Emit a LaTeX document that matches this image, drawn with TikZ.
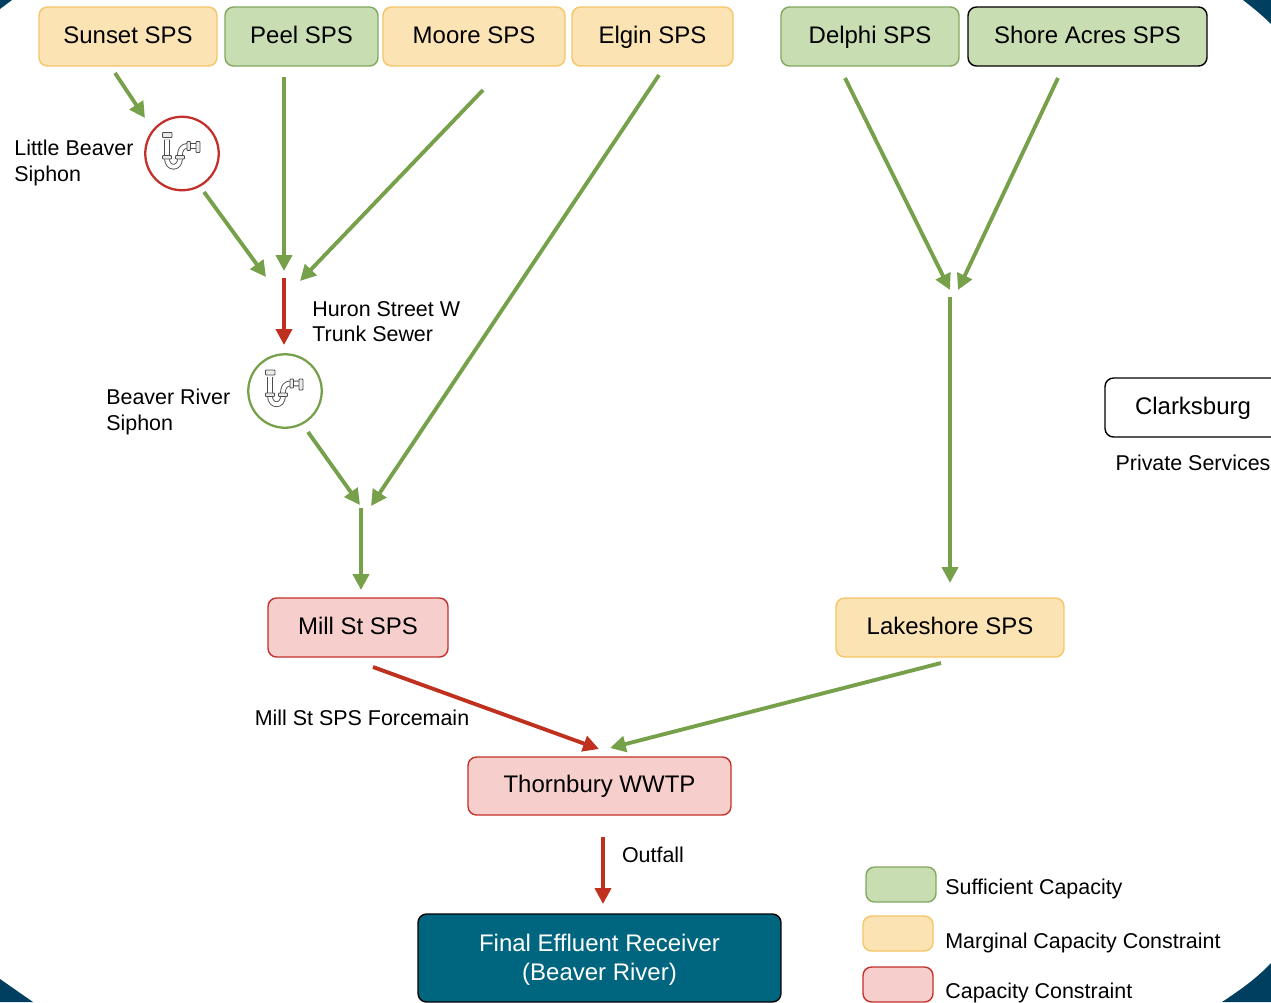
\documentclass[tikz,border=0pt]{standalone}
\usepackage{fontspec}
\setmainfont{Liberation Sans}
\usetikzlibrary{arrows.meta}
\definecolor{sufficientFill}{HTML}{C9DDB2}
\definecolor{sufficientLine}{HTML}{82A85E}
\definecolor{marginalFill}{HTML}{FBE3B3}
\definecolor{marginalLine}{HTML}{F5C568}
\definecolor{constraintFill}{HTML}{F6CFCC}
\definecolor{constraintLine}{HTML}{C4302B}
\definecolor{receiverFill}{HTML}{00667F}
\definecolor{cornerFill}{HTML}{003F5F}
\definecolor{flowGreen}{HTML}{76A04A}
\definecolor{flowRed}{HTML}{C0301F}
\tikzset{
  baseBox/.style={%
    rectangle, rounded corners=0.17cm, line width=0.8pt, draw, inner sep=0pt,
    font=\fontsize{13.65}{16.6}\selectfont, align=center, text=black,
    text height=10pt, text depth=2.6pt,
  },
  sufficientBox/.style={baseBox, fill=sufficientFill, draw=sufficientLine},
  marginalBox/.style={baseBox, fill=marginalFill, draw=marginalLine},
  constraintBox/.style={baseBox, fill=constraintFill, draw=constraintLine},
  plainLabel/.style={%
    inner sep=0pt, align=left, font=\fontsize{12.2}{14.6}\selectfont,
  },
  siphonNode/.style={%
    circle, minimum size=1.47cm, inner sep=0pt, fill=white, line width=1.3pt,
  },
  greenFlow/.style={%
    draw=flowGreen, line width=2.2pt, -{Triangle[length=9pt,width=9pt]},
  },
  redFlow/.style={%
    draw=flowRed, line width=2.2pt, -{Triangle[length=9pt,width=9pt]},
  },
  pipeLine/.style={%
    draw=black!70, double=white, line width=0.5pt, double distance=2.2pt,
  },
  pipeCap/.style={%
    draw=black!70, fill=black!8, line width=0.5pt, rounded corners=0.4pt,
  },
  pics/pipeIcon/.style={
    code={
      \draw[pipeLine] (-15,-14) -- (-15,5) .. controls (-15,16) and (-2,16) .. (-2,5) -- (-2,1)
        .. controls (-2,-4) and (1,-7.5) .. (5,-7.5) -- (15,-7.5);
      \draw[pipeCap] (-19.5,-21) rectangle (-10,-16);
      \draw[pipeCap] (-19.5,2) rectangle (-10.5,5.5);
      \draw[pipeCap] (-6.5,2) rectangle (2.5,5.5);
      \draw[pipeCap] (5,-12) rectangle (8.5,-3);
      \draw[pipeCap] (14,-12) rectangle (18,-1);
    }
  },
}

\begin{document}
\begin{tikzpicture}[x=0.02cm,y=-0.02cm]
  \useasboundingbox (0,0) rectangle (1271,1002);

  % corners
  \fill[cornerFill] (0,0) -- (12,0) -- (0,9) -- cycle;
  \fill[cornerFill] (1243,0) -- (1271,0) -- (1271,24) .. controls (1262,15) and (1252,7) .. (1243,0) -- cycle;
  \fill[cornerFill] (0,979) -- (33,1002) -- (0,1002) -- cycle;
  \fill[cornerFill] (1271,963) .. controls (1256,979) and (1240,990) .. (1222,1002) -- (1271,1002) -- cycle;

  % pump stations
  \node[marginalBox,minimum width=3.56cm,minimum height=1.18cm] (sunset) at (128,36.5) {Sunset SPS};
  \node[sufficientBox,minimum width=3.06cm,minimum height=1.18cm] (peel) at (301.5,36.5) {Peel SPS};
  \node[marginalBox,minimum width=3.64cm,minimum height=1.18cm] (moore) at (474,36.5) {Moore SPS};
  \node[marginalBox,minimum width=3.22cm,minimum height=1.18cm] (elgin) at (652.5,36.5) {Elgin SPS};
  \node[sufficientBox,minimum width=3.56cm,minimum height=1.18cm] (delphi) at (870,36.5) {Delphi SPS};
  \node[sufficientBox,draw=black,minimum width=4.78cm,minimum height=1.18cm] (shore) at (1087.5,36.5) {Shore Acres SPS};
  \node[baseBox,fill=white,draw=black,minimum width=3.52cm,minimum height=1.18cm] (clarksburg) at (1193,407.5) {Clarksburg};
  \node[constraintBox,minimum width=3.6cm,minimum height=1.18cm] (millSt) at (358,627.5) {Mill St SPS};
  \node[marginalBox,minimum width=4.56cm,minimum height=1.18cm] (lakeshore) at (950,627.5) {Lakeshore SPS};
  \node[constraintBox,minimum width=5.26cm,minimum height=1.16cm] (thornbury) at (599.5,786) {Thornbury WWTP};
  \node[baseBox,fill=receiverFill,draw=black,text=white,text height=29pt,text depth=3.2pt,minimum width=7.26cm,minimum height=1.76cm] (receiver) at (599.5,958) {Final Effluent Receiver\\(Beaver River)};

  % siphons
  \node[siphonNode,draw=constraintLine] (littleBeaver) at (182,153.5) {};
  \node[siphonNode,draw=flowGreen] (beaverRiver) at (285,391) {};
  \pic at (littleBeaver) {pipeIcon};
  \pic at (beaverRiver) {pipeIcon};

  % labels
  \node[plainLabel,anchor=west] (littleBeaverText) at (14,163) {Little Beaver\\Siphon};
  \node[plainLabel,anchor=west] (huronText) at (312,321.5) {Huron Street W\\Trunk Sewer};
  \node[plainLabel,anchor=west] (beaverRiverText) at (106,412) {Beaver River\\Siphon};
  \node[plainLabel] (privateText) at (1193,463) {Private Services};
  \node[plainLabel] (forcemainText) at (362,718) {Mill St SPS Forcemain};
  \node[plainLabel] (outfallText) at (653,855) {Outfall};

  % legend
  \node[sufficientBox,minimum width=1.4cm,minimum height=0.7cm] (legendGreen) at (901,884.5) {};
  \node[marginalBox,minimum width=1.4cm,minimum height=0.7cm] (legendYellow) at (898,933.5) {};
  \node[constraintBox,minimum width=1.4cm,minimum height=0.7cm] (legendRed) at (898,984.5) {};
  \node[plainLabel,anchor=west] (legendGreenText) at (945,889) {Sufficient Capacity};
  \node[plainLabel,anchor=west] (legendYellowText) at (945,943) {Marginal Capacity Constraint};
  \node[plainLabel,anchor=west] (legendRedText) at (945,993) {Capacity Constraint};

  % free ends of the flows
  \coordinate (sunsetOut) at (115,73);
  \coordinate (littleIn) at (145,118);
  \coordinate (littleOut) at (204,192);
  \coordinate (huronA) at (266,277);
  \coordinate (peelOut) at (284,77);
  \coordinate (huronB) at (284,271);
  \coordinate (mooreOut) at (483,90);
  \coordinate (huronC) at (300,281);
  \coordinate (huronOut) at (284,278);
  \coordinate (beaverIn) at (284,345);
  \coordinate (beaverOut) at (308,432);
  \coordinate (millA) at (360,505);
  \coordinate (elginOut) at (659,75);
  \coordinate (millB) at (371,506);
  \coordinate (millOut) at (361,508);
  \coordinate (millIn) at (361,590);
  \coordinate (delphiOut) at (845,78);
  \coordinate (lakeA) at (950,290);
  \coordinate (shoreOut) at (1058,78);
  \coordinate (lakeB) at (958,290);
  \coordinate (lakeOut) at (950,297);
  \coordinate (lakeIn) at (950,583);
  \coordinate (forceOut) at (373,667);
  \coordinate (forceIn) at (599,749);
  \coordinate (lakeshoreOut) at (941,663);
  \coordinate (lakeshoreIn) at (610,748);
  \coordinate (wwtpOut) at (603,837);
  \coordinate (receiverIn) at (603,904);

  \draw[greenFlow] (sunsetOut) -- (littleIn);
  \draw[greenFlow] (littleOut) -- (huronA);
  \draw[greenFlow] (peelOut) -- (huronB);
  \draw[greenFlow] (mooreOut) -- (huronC);
  \draw[redFlow] (huronOut) -- (beaverIn);
  \draw[greenFlow] (beaverOut) -- (millA);
  \draw[greenFlow] (elginOut) -- (millB);
  \draw[greenFlow] (millOut) -- (millIn);
  \draw[greenFlow] (delphiOut) -- (lakeA);
  \draw[greenFlow] (shoreOut) -- (lakeB);
  \draw[greenFlow] (lakeOut) -- (lakeIn);
  \draw[redFlow] (forceOut) -- (forceIn);
  \draw[greenFlow] (lakeshoreOut) -- (lakeshoreIn);
  \draw[redFlow] (wwtpOut) -- (receiverIn);

\end{tikzpicture}
\end{document}
